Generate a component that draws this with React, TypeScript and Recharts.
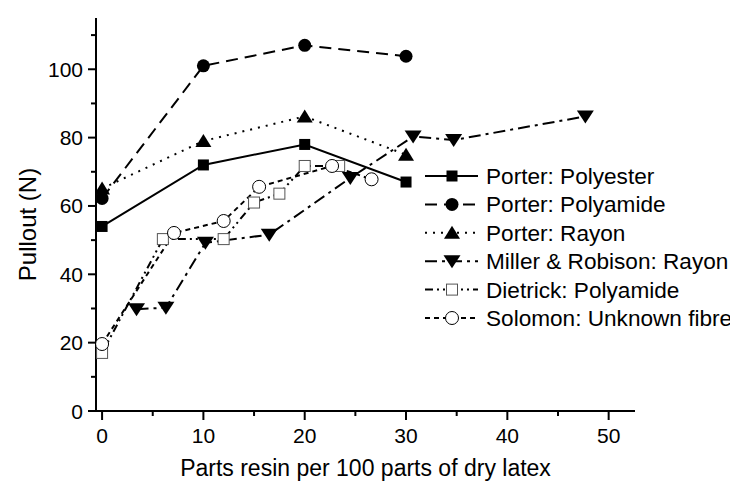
import React from 'react';
import { LineChart, Line, XAxis, YAxis, Legend } from 'recharts';

const FONT = '"Liberation Sans", Arial, Helvetica, sans-serif';

// Resin content (parts per 100 parts dry latex) and pull-out force (N)
const porterX = [0, 10, 20, 30];
const porterPolyesterY = [54, 72, 78, 67];
const porterPolyamideY = [62.2, 101, 107, 103.8];
const porterRayonY = [65.1, 79, 86.2, 75];

const millerX = [3.4, 6.3, 10.2, 16.5, 24.5, 30.7, 34.7, 47.7];
const millerY = [29.8, 30.2, 49.2, 51.6, 68.2, 80.3, 79.3, 86.2];

const dietrickX = [0, 6, 12, 15, 17.5, 20, 23.4];
const dietrickY = [17, 50.3, 50.3, 61, 63.6, 71.7, 71.7];

const solomonX = [0, 7.1, 12, 15.5, 22.7, 26.6];
const solomonY = [19.6, 52.1, 55.6, 65.6, 71.7, 67.8];

const xTicks = [0, 5, 10, 15, 20, 25, 30, 35, 40, 45, 50];
const xTickLabels = [0, 10, 20, 30, 40, 50];
const yTicks = [0, 10, 20, 30, 40, 50, 60, 70, 80, 90, 100, 110];
const yTickLabels = [0, 20, 40, 60, 80, 100];

const toPoints = (xs: number[], ys: number[]) => xs.map((x, i) => ({ x, y: ys[i] }));

type Shape = 'square' | 'circle' | 'triUp' | 'triDown' | 'openSquare' | 'openCircle';

const series: { name: string; data: { x: number; y: number }[]; dash?: string; shape: Shape }[] = [
  { name: 'Porter: Polyester', data: toPoints(porterX, porterPolyesterY), shape: 'square' },
  { name: 'Porter: Polyamide', data: toPoints(porterX, porterPolyamideY), dash: '12 7', shape: 'circle' },
  { name: 'Porter: Rayon', data: toPoints(porterX, porterRayonY), dash: '2 6', shape: 'triUp' },
  { name: 'Miller & Robison: Rayon', data: toPoints(millerX, millerY), dash: '12 5 3 5', shape: 'triDown' },
  { name: 'Dietrick: Polyamide', data: toPoints(dietrickX, dietrickY), dash: '8 4 2 4 2 4', shape: 'openSquare' },
  { name: 'Solomon: Unknown fibre', data: toPoints(solomonX, solomonY), dash: '5 4', shape: 'openCircle' },
];

function marker(shape: Shape, cx: number, cy: number, key?: string | number) {
  switch (shape) {
    case 'square':
      return <rect key={key} x={cx - 5.5} y={cy - 5.5} width={11} height={11} fill="#000" />;
    case 'circle':
      return <circle key={key} cx={cx} cy={cy} r={6.5} fill="#000" />;
    case 'triUp':
      return <polygon key={key} points={`${cx},${cy - 7} ${cx + 8},${cy + 6} ${cx - 8},${cy + 6}`} fill="#000" />;
    case 'triDown':
      return <polygon key={key} points={`${cx - 8.5},${cy - 6} ${cx + 8.5},${cy - 6} ${cx},${cy + 7}`} fill="#000" />;
    case 'openSquare':
      return (
        <rect key={key} x={cx - 5.5} y={cy - 5.5} width={11} height={11} fill="#fff" stroke="#555" strokeWidth={1} />
      );
    case 'openCircle':
    default:
      return <circle key={key} cx={cx} cy={cy} r={6.5} fill="#fff" stroke="#000" strokeWidth={1} />;
  }
}

const XTick = (props: any) => {
  const { x, y, payload } = props;
  const major = xTickLabels.includes(payload.value);
  return (
    <g>
      <line x1={x} x2={x} y1={y} y2={y + (major ? 9 : 5)} stroke="#000" strokeWidth={2} />
      {major && (
        <text x={x} y={y + 32} textAnchor="middle" fontFamily={FONT} fontSize={21} fill="#000">
          {payload.value}
        </text>
      )}
    </g>
  );
};

const YTick = (props: any) => {
  const { x, y, payload } = props;
  const major = yTickLabels.includes(payload.value);
  return (
    <g>
      <line x1={x - (major ? 8 : 5)} x2={x} y1={y} y2={y} stroke="#000" strokeWidth={2} />
      {major && (
        <text x={x - 13} y={y + 7.5} textAnchor="end" fontFamily={FONT} fontSize={21} fill="#000">
          {payload.value}
        </text>
      )}
    </g>
  );
};

const LegendBox = () => {
  const rowH = 28.4;
  return (
    <svg width={312} height={180} style={{ display: 'block' }}>
      {series.map((s, i) => {
        const cy = 14 + i * rowH;
        return (
          <g key={s.name}>
            <line x1={0} x2={53} y1={cy} y2={cy} stroke="#000" strokeWidth={2} strokeDasharray={s.dash} />
            {marker(s.shape, 27, cy)}
            <text x={61} y={cy + 8} fontFamily={FONT} fontSize={22.6} fill="#000">
              {s.name}
            </text>
          </g>
        );
      })}
    </svg>
  );
};

export default function App() {
  return (
    <LineChart width={730} height={474} margin={{ top: 10, right: 103, bottom: 11, left: 0 }}>
      <XAxis
        type="number"
        dataKey="x"
        domain={[-0.6, 52.6]}
        ticks={xTicks}
        interval={0}
        allowDataOverflow
        tickLine={false}
        tickSize={0}
        tickMargin={0}
        tick={<XTick />}
        axisLine={{ stroke: '#000', strokeWidth: 2 }}
        height={60}
        label={{
          content: (p: any) => {
            const vb = p.viewBox;
            return (
              <text
                x={vb.x + vb.width / 2}
                y={vb.y + 65}
                textAnchor="middle"
                fontFamily={FONT}
                fontSize={23}
                fill="#000"
              >
                Parts resin per 100 parts of dry latex
              </text>
            );
          },
        }}
      />
      <YAxis
        type="number"
        dataKey="y"
        domain={[0, 115]}
        ticks={yTicks}
        interval={0}
        allowDataOverflow
        tickLine={false}
        tickSize={0}
        tickMargin={0}
        tick={<YTick />}
        axisLine={{ stroke: '#000', strokeWidth: 2 }}
        width={88}
        label={{
          content: (p: any) => {
            const vb = p.viewBox;
            const cx = 19;
            const cy = vb.y + vb.height / 2 + 10;
            return (
              <text
                x={cx}
                y={cy}
                transform={`rotate(-90, ${cx}, ${cy})`}
                textAnchor="middle"
                dominantBaseline="central"
                fontFamily={FONT}
                fontSize={24}
                fill="#000"
              >
                Pullout (N)
              </text>
            );
          },
        }}
      />
      <Legend
        layout="vertical"
        align="center"
        verticalAlign="middle"
        wrapperStyle={{ position: 'absolute', left: 417, top: 154, width: 312 }}
        content={() => <LegendBox />}
      />
      {series.map((s) => (
        <Line
          key={s.name}
          name={s.name}
          data={s.data}
          dataKey="y"
          type="linear"
          stroke="#000"
          strokeWidth={2}
          strokeDasharray={s.dash}
          isAnimationActive={false}
          dot={(p: any) => marker(s.shape, p.cx, p.cy, `${s.name}-${p.index}`)}
          activeDot={false}
        />
      ))}
    </LineChart>
  );
}
